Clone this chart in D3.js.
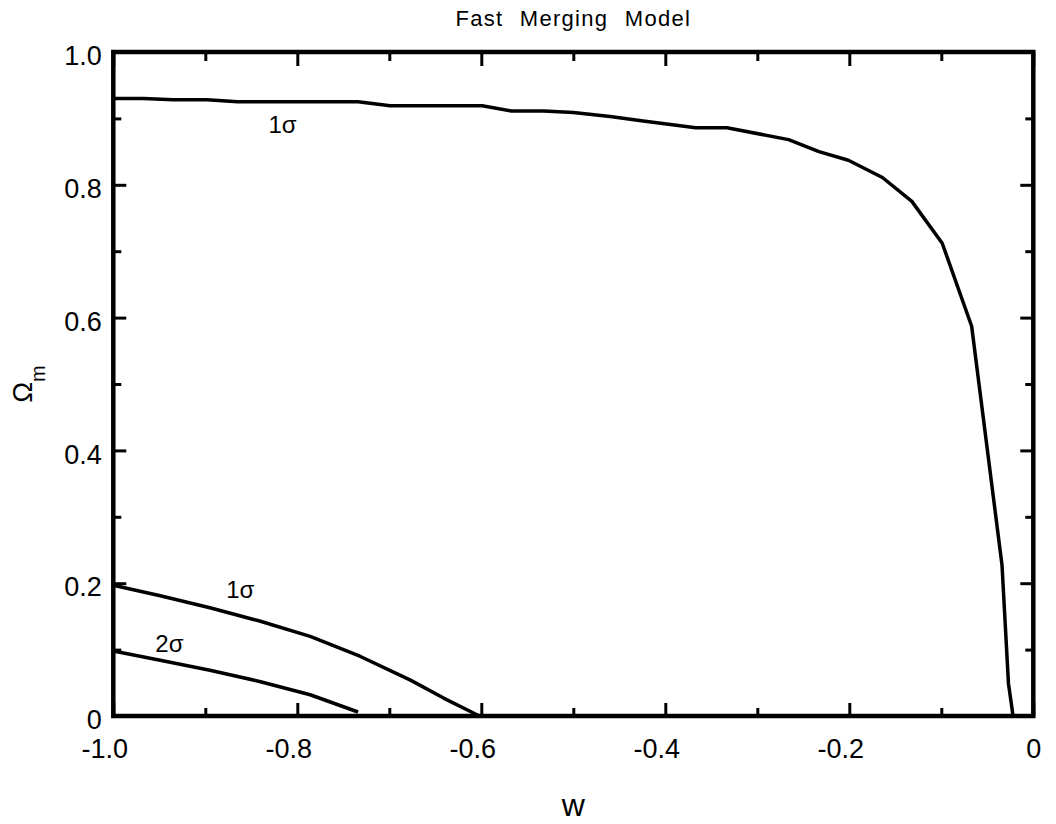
<!DOCTYPE html>
<html>
<head>
<meta charset="utf-8">
<script src="https://cdn.jsdelivr.net/npm/d3@7"></script>
<style>
  body { margin: 0; background: #fff; }
  svg { display: block; font-family: "Liberation Sans", Arial, sans-serif; }
  .tick line { stroke: #000; stroke-width: 3; }
  .tick text { fill: #000; }
</style>
</head>
<body>
<div class="chart"></div>
<script>
/*** DATA ***/
// outer 1 sigma contour (top / right)
const outerW = [-1.0, -0.967, -0.935, -0.898, -0.865, -0.734, -0.699, -0.599, -0.567, -0.532, -0.500, -0.460,
                -0.424, -0.367, -0.333, -0.266, -0.233, -0.201, -0.164, -0.132, -0.099, -0.067, -0.034, -0.027, -0.022];
const outerOm = [0.930, 0.930, 0.928, 0.928, 0.925, 0.925, 0.919, 0.919, 0.911, 0.911, 0.909, 0.903,
                 0.896, 0.886, 0.886, 0.868, 0.850, 0.837, 0.811, 0.775, 0.712, 0.587, 0.227, 0.049, 0.0];
// lower 1 sigma contour
const low1W = [-1.0, -0.949, -0.895, -0.841, -0.786, -0.732, -0.677, -0.641, -0.602];
const low1Om = [0.197, 0.181, 0.163, 0.143, 0.120, 0.090, 0.054, 0.027, 0.0];
// lower 2 sigma contour
const low2W = [-1.0, -0.949, -0.895, -0.841, -0.786, -0.734];
const low2Om = [0.098, 0.084, 0.069, 0.052, 0.032, 0.006];

// contour labels
const labelText = ['1\u03c3', '1\u03c3', '2\u03c3'];
const labelW = [-0.816, -0.862, -0.939];
const labelOm = [0.878, 0.178, 0.097];

// ticks
const xTicks = [-1.0, -0.8, -0.6, -0.4, -0.2, 0];
const xTickLabels = ['-1.0', '-0.8', '-0.6', '-0.4', '-0.2', '0'];
const xMinor = [-0.9, -0.7, -0.5, -0.3, -0.1];
const yTicks = [0, 0.2, 0.4, 0.6, 0.8, 1.0];
const yTickLabels = ['0', '0.2', '0.4', '0.6', '0.8', '1.0'];
const yMinor = [0.1, 0.3, 0.5, 0.7, 0.9];

/*** LAYOUT ***/
const width = 1056, height = 824;
const margin = { top: 52, left: 113.3, right: 22.7, bottom: 108 };

const svg = d3.select('.chart')
  .append('svg')
  .attr('width', width)
  .attr('height', height);

const x = d3.scaleLinear().domain([-1, 0]).range([margin.left, width - margin.right]);
const y = d3.scaleLinear().domain([0, 1]).range([height - margin.bottom, margin.top]);

// axes: major ticks with labels, minor ticks without
function addAxis(axis, tx, ty) {
  const g = svg.append('g')
    .attr('transform', `translate(${tx},${ty})`)
    .call(axis);
  g.select('.domain').remove();
  return g;
}

const bottom = addAxis(d3.axisBottom(x).tickValues(xTicks)
  .tickFormat((d, i) => xTickLabels[i]).tickSize(-13).tickPadding(23), 0, y(0));
bottom.selectAll('text')
  .style('font-size', '27px')
  .attr('dx', d => d < 0 ? -9 : 0);
addAxis(d3.axisBottom(x).tickValues(xMinor).tickFormat('').tickSize(-8), 0, y(0));

addAxis(d3.axisTop(x).tickValues(xTicks).tickFormat('').tickSize(-14), 0, y(1));
addAxis(d3.axisTop(x).tickValues(xMinor).tickFormat('').tickSize(-9), 0, y(1));

const left = addAxis(d3.axisLeft(y).tickValues(yTicks)
  .tickFormat((d, i) => yTickLabels[i]).tickSize(-13).tickPadding(11.5), x(-1), 0);
left.selectAll('text')
  .style('font-size', '27px')
  .attr('dy', 12.7);
addAxis(d3.axisLeft(y).tickValues(yMinor).tickFormat('').tickSize(-8), x(-1), 0);

addAxis(d3.axisRight(y).tickValues(yTicks).tickFormat('').tickSize(-13), x(0), 0);
addAxis(d3.axisRight(y).tickValues(yMinor).tickFormat('').tickSize(-8), x(0), 0);

// frame
svg.append('rect')
  .attr('x', x(-1))
  .attr('y', y(1))
  .attr('width', x(0) - x(-1))
  .attr('height', y(0) - y(1))
  .attr('fill', 'none')
  .attr('stroke', '#000')
  .attr('stroke-width', 4.5);

/*** CONTOURS ***/
const line = d3.line()
  .x(d => x(d[0]))
  .y(d => y(d[1]));

const contours = [
  d3.zip(outerW, outerOm),
  d3.zip(low1W, low1Om),
  d3.zip(low2W, low2Om)
];

svg.append('g')
  .selectAll('path')
  .data(contours)
  .join('path')
  .attr('d', line)
  .attr('fill', 'none')
  .attr('stroke', '#000')
  .attr('stroke-width', 3.5)
  .attr('stroke-linejoin', 'round');

svg.append('g')
  .selectAll('text')
  .data(labelText)
  .join('text')
  .attr('x', (d, i) => x(labelW[i]))
  .attr('y', (d, i) => y(labelOm[i]))
  .attr('text-anchor', 'middle')
  .style('font-size', '24px')
  .text(d => d);

/*** LABELS ***/
svg.append('text')
  .attr('x', (x(-1) + x(0)) / 2)
  .attr('y', 26)
  .attr('text-anchor', 'middle')
  .style('font-size', '22px')
  .style('letter-spacing', '1.3px')
  .style('word-spacing', '9px')
  .text('Fast Merging Model');

svg.append('text')
  .attr('x', (x(-1) + x(0)) / 2)
  .attr('y', 816)
  .attr('text-anchor', 'middle')
  .style('font-size', '32px')
  .text('w');

const yLab = svg.append('text')
  .attr('transform', `translate(31.7,${(y(0) + y(1)) / 2}) rotate(-90)`)
  .attr('text-anchor', 'middle')
  .style('font-size', '28px');
yLab.append('tspan').text('\u03a9');
yLab.append('tspan').attr('dy', 13).style('font-size', '20px').text('m');
</script>
</body>
</html>
